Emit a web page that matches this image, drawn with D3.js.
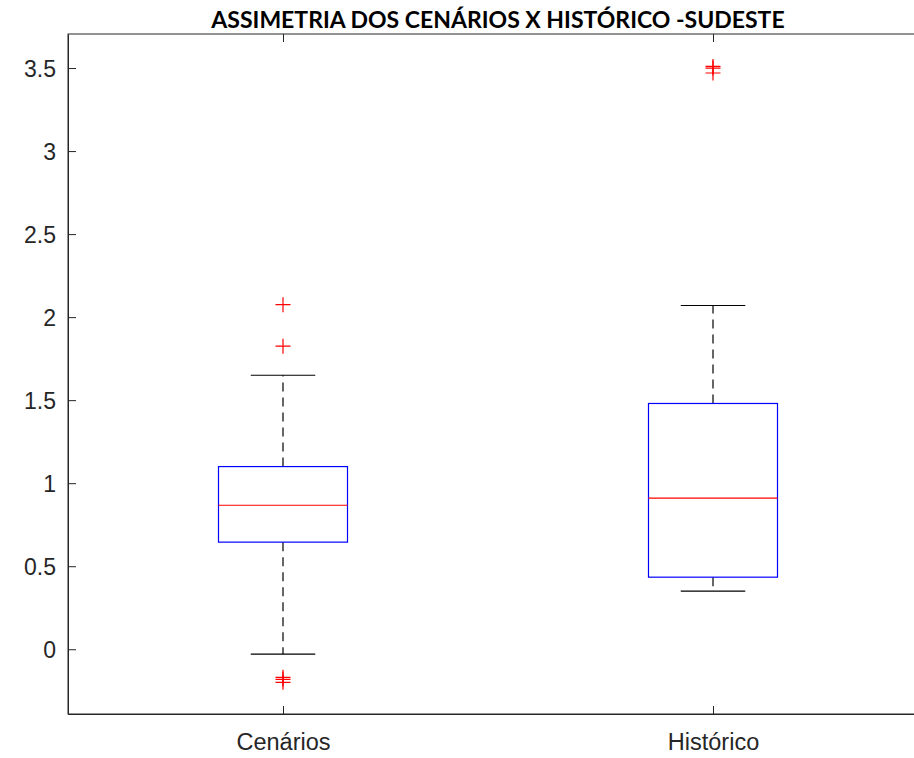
<!DOCTYPE html>
<html>
<head>
<meta charset="utf-8">
<script src="https://cdn.jsdelivr.net/npm/d3@7"></script>
<style>
  html, body { margin: 0; padding: 0; background: #ffffff; }
  svg { display: block; }
</style>
</head>
<body>
<svg id="chart" width="914" height="758"></svg>
<script>
// Box statistics per group (skewness of scenarios vs. historical record)
const categories = ["Cenários", "Histórico"];
const upperWhisker = [1.65, 2.07];
const q3 = [1.10, 1.48];
const median = [0.867, 0.91];
const q1 = [0.645, 0.434];
const lowerWhisker = [-0.03, 0.35];
const outliersCenarios = [2.075, 1.825, -0.169, -0.181, -0.199];
const outliersHistorico = [3.51, 3.50, 3.47];
const yTickValues = [0, 0.5, 1, 1.5, 2, 2.5, 3, 3.5];
const yTickLabels = ["0", "0.5", "1", "1.5", "2", "2.5", "3", "3.5"];
const titleText = "ASSIMETRIA DOS CENÁRIOS X HISTÓRICO -SUDESTE";

const outliers = [outliersCenarios, outliersHistorico];
const groups = categories.map((c, i) => ({
  name: c, pos: i + 1,
  uw: upperWhisker[i], q3: q3[i], med: median[i], q1: q1[i], lw: lowerWhisker[i],
  out: outliers[i]
}));

const svg = d3.select("#chart");
const axisColor = "#262626";
const plotLeft = 68, plotRight = 928, plotTop = 34, plotBottom = 714;

const x = d3.scaleLinear().domain([0.5, 2.5]).range([plotLeft, plotRight]);
const y = d3.scaleLinear().domain([-0.39, 3.705]).range([plotBottom, plotTop]);

const boxHalf = 0.15, capHalf = 0.075;

// Axes frame
svg.append("rect")
  .attr("x", plotLeft).attr("y", plotTop)
  .attr("width", plotRight - plotLeft).attr("height", plotBottom - plotTop)
  .attr("fill", "#ffffff").attr("stroke", axisColor).attr("stroke-width", 1);

const fontFam = "'Liberation Sans', Arial, Helvetica, sans-serif";

// Y axis with inward ticks
const yAxis = svg.append("g")
  .attr("transform", `translate(${plotLeft},0)`)
  .call(d3.axisLeft(y).tickValues(yTickValues)
    .tickFormat((d, i) => yTickLabels[i])
    .tickSizeInner(-8).tickSizeOuter(0).tickPadding(12));
yAxis.select(".domain").attr("stroke", axisColor);
yAxis.selectAll(".tick line").attr("stroke", axisColor);
yAxis.selectAll(".tick text")
  .attr("fill", axisColor).attr("font-size", 23).attr("font-family", fontFam)
  .attr("dy", "0.35em");

// X axis (bottom) with inward ticks
const xAxis = svg.append("g")
  .attr("transform", `translate(0,${plotBottom})`)
  .call(d3.axisBottom(x).tickValues([1, 2])
    .tickFormat((d, i) => categories[i])
    .tickSizeInner(-8).tickSizeOuter(0).tickPadding(19));
xAxis.select(".domain").attr("stroke", axisColor);
xAxis.selectAll(".tick line").attr("stroke", axisColor);
xAxis.selectAll(".tick text")
  .attr("fill", axisColor).attr("font-size", 23.5).attr("font-family", fontFam);

// Top ticks mirroring the bottom ones
const xTop = svg.append("g")
  .attr("transform", `translate(0,${plotTop})`)
  .call(d3.axisTop(x).tickValues([1, 2]).tickFormat("")
    .tickSizeInner(-8).tickSizeOuter(0));
xTop.select(".domain").remove();
xTop.selectAll(".tick line").attr("stroke", axisColor);

const g = svg.append("g");

groups.forEach(d => {
  // whiskers (dashed)
  g.append("line")
    .attr("x1", x(d.pos)).attr("x2", x(d.pos))
    .attr("y1", y(d.q3)).attr("y2", y(d.uw))
    .attr("stroke", "#000").attr("stroke-width", 1.2).attr("stroke-dasharray", "9,6");
  g.append("line")
    .attr("x1", x(d.pos)).attr("x2", x(d.pos))
    .attr("y1", y(d.q1)).attr("y2", y(d.lw))
    .attr("stroke", "#000").attr("stroke-width", 1.2).attr("stroke-dasharray", "9,6");
  // caps
  [d.uw, d.lw].forEach(v => {
    g.append("line")
      .attr("x1", x(d.pos - capHalf)).attr("x2", x(d.pos + capHalf))
      .attr("y1", y(v)).attr("y2", y(v))
      .attr("stroke", "#000").attr("stroke-width", 1.2);
  });
  // box
  g.append("rect")
    .attr("x", x(d.pos - boxHalf)).attr("y", y(d.q3))
    .attr("width", x(d.pos + boxHalf) - x(d.pos - boxHalf))
    .attr("height", y(d.q1) - y(d.q3))
    .attr("fill", "none").attr("stroke", "#0000ff").attr("stroke-width", 1.2);
  // median
  g.append("line")
    .attr("x1", x(d.pos - boxHalf)).attr("x2", x(d.pos + boxHalf))
    .attr("y1", y(d.med)).attr("y2", y(d.med))
    .attr("stroke", "#ff0000").attr("stroke-width", 1.2);
  // outliers as '+'
  const m = 7.5;
  d.out.forEach(v => {
    const cx = x(d.pos), cy = y(v);
    g.append("path")
      .attr("d", `M${cx - m},${cy}H${cx + m}M${cx},${cy - m}V${cy + m}`)
      .attr("stroke", "#ff0000").attr("stroke-width", 1.2).attr("fill", "none");
  });
});

// Title
svg.append("text")
  .attr("x", (plotLeft + plotRight) / 2).attr("y", 28)
  .attr("text-anchor", "middle")
  .attr("font-family", "Lato, 'Open Sans', sans-serif")
  .attr("font-weight", "bold").attr("font-size", 23)
  .attr("fill", "#000")
  .text(titleText);
</script>
</body>
</html>
